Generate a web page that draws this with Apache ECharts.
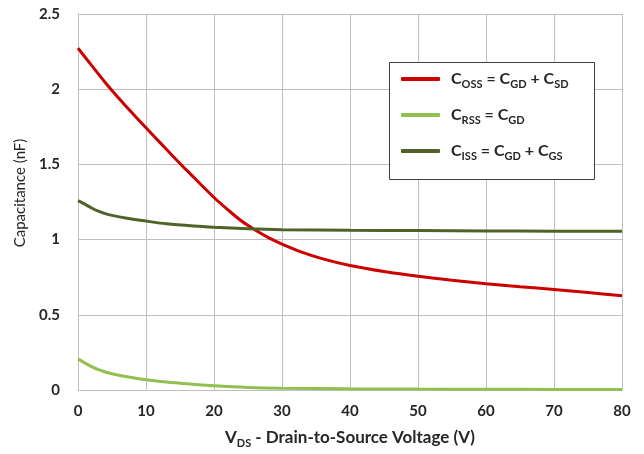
<!DOCTYPE html>
<html><head><meta charset="utf-8">
<script src="https://cdn.jsdelivr.net/npm/echarts@6/dist/echarts.min.js"></script>
<style>html,body{margin:0;padding:0;background:#fff}#c{width:644px;height:454px}</style>
</head><body><div id="c"></div>
<script>
const seriesNames = ['Coss', 'Crss', 'Ciss'];
const legendLabels = [
  '{f|C}{s|OSS}{m| = C}{s|GD}{m| + C}{s|SD}',
  '{f|C}{s|RSS}{m| = C}{s|GD}',
  '{f|C}{s|ISS}{m| = C}{s|GD}{m| + C}{s|GS}'
];
const xAxisTitle = '{m|V}{s|DS}{m| - Drain-to-Source Voltage (V)}';
const yAxisTitle = 'Capacitance (nF)';
const cossX = [0,2,4,6,8,10,12,14,16,18,20,22,24,26,28,30,33,36,40,45,50,55,60,65,70,75,80];
const cossY = [2.273,2.158,2.045,1.94,1.84,1.744,1.648,1.553,1.46,1.37,1.28,1.20,1.125,1.065,1.013,0.97,0.915,0.872,0.828,0.788,0.756,0.73,0.707,0.687,0.668,0.648,0.627];
const crssX = [0,1,2,3,4,5,7,10,13,17,20,25,30,40,50,60,70,80];
const crssY = [0.207,0.18,0.155,0.135,0.12,0.108,0.09,0.068,0.053,0.038,0.028,0.017,0.012,0.008,0.006,0.005,0.004,0.003];
const cissX = [0,1,2,3,4,5,7,10,13,17,20,25,30,40,50,60,70,80];
const cissY = [1.259,1.236,1.21,1.189,1.173,1.161,1.143,1.123,1.105,1.09,1.082,1.072,1.066,1.062,1.06,1.058,1.056,1.055];
const colors = ['#cc0000', '#92c050', '#4f6228'];

const zip = (xs, ys) => xs.map((x, i) => [x, ys[i]]);
const FONT = 'Lato';
const TXT = '#262626';
const mainTok = (fs, lh) => ({ fontFamily: FONT, fontSize: fs, fontWeight: 'bold', color: TXT, lineHeight: lh, verticalAlign: 'middle' });
const subTok = (fs, lh) => ({ fontFamily: FONT, fontSize: fs, fontWeight: 'bold', color: TXT, lineHeight: lh, verticalAlign: 'bottom' });
const chart = echarts.init(document.getElementById('c'));
chart.setOption({
  animation: false,
  textStyle: { fontFamily: FONT },
  grid: { left: 78, right: 22, top: 14, bottom: 62 },
  xAxis: {
    type: 'value', min: 0, max: 80, interval: 10,
    name: xAxisTitle,
    nameLocation: 'middle', nameGap: 37,
    nameTextStyle: { rich: { m: mainTok(17, 22), s: subTok(11, 14) } },
    axisLine: { lineStyle: { color: '#bfbfbf', width: 1 } },
    axisTick: { show: false },
    axisLabel: { margin: 14, fontFamily: FONT, fontSize: 15, fontWeight: 'bold', color: TXT },
    splitLine: { show: true, lineStyle: { color: '#bfbfbf', width: 1 } }
  },
  yAxis: {
    type: 'value', min: 0, max: 2.5, interval: 0.5,
    name: yAxisTitle, nameLocation: 'middle', nameGap: 50, nameRotate: 90,
    nameTextStyle: { fontFamily: FONT, fontSize: 15, fontWeight: 'normal', color: TXT, padding: [0, 0, 0, 18] },
    axisLine: { show: true, lineStyle: { color: '#bfbfbf', width: 1 } },
    axisTick: { show: false },
    axisLabel: { margin: 18, fontFamily: FONT, fontSize: 15, fontWeight: 'bold', color: TXT },
    splitLine: { show: true, lineStyle: { color: '#bfbfbf', width: 1 } }
  },
  graphic: [{
    type: 'rect', left: 389, top: 62, z: 5,
    shape: { width: 205, height: 117 },
    style: { fill: '#fff', stroke: '#404040', lineWidth: 1 }
  }],
  legend: {
    orient: 'vertical', left: 401, top: 71, z: 10,
    itemWidth: 39, itemHeight: 4, itemGap: 17, icon: 'roundRect',
    data: seriesNames,
    formatter: name => legendLabels[seriesNames.indexOf(name)],
    textStyle: { rich: {
      f: Object.assign(mainTok(16, 22), { padding: [0, 0, 0, 6] }),
      m: mainTok(16, 22),
      s: subTok(11, 14)
    }},
    padding: 0
  },
  series: [
    { name: seriesNames[0], type: 'line', data: zip(cossX, cossY) },
    { name: seriesNames[1], type: 'line', data: zip(crssX, crssY) },
    { name: seriesNames[2], type: 'line', data: zip(cissX, cissY) }
  ].map((s, i) => Object.assign(s, {
    smooth: 0.3, showSymbol: false, symbol: 'none',
    itemStyle: { color: colors[i] },
    lineStyle: { color: colors[i], width: 3 }
  }))
});
</script></body></html>
